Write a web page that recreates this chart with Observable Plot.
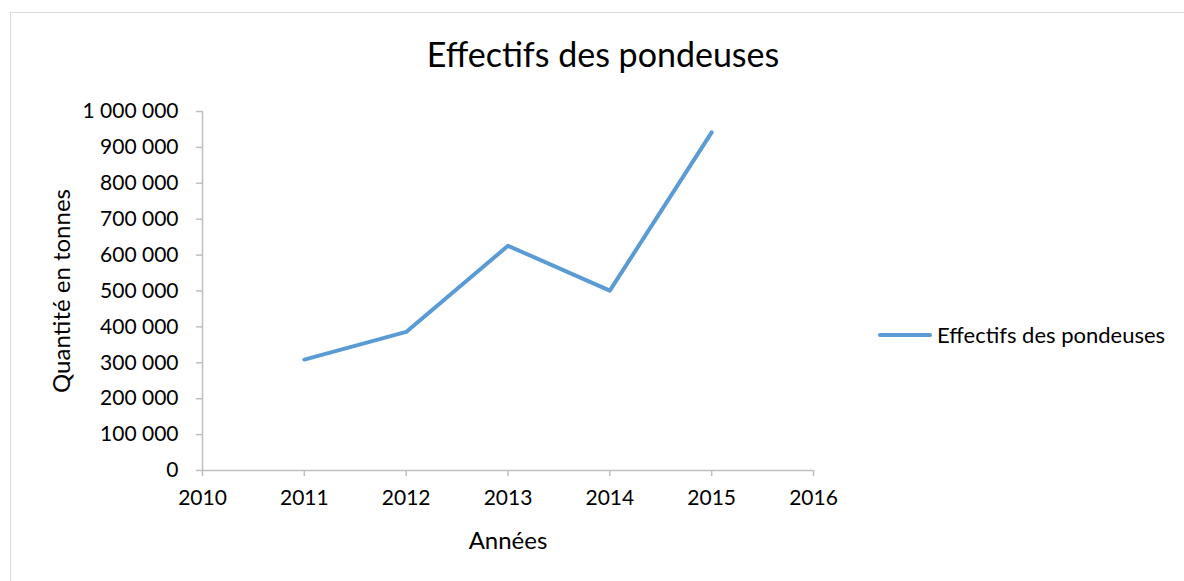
<!DOCTYPE html>
<html>
<head>
<meta charset="utf-8">
<script src="https://cdn.jsdelivr.net/npm/d3@7"></script>
<script src="https://cdn.jsdelivr.net/npm/@observablehq/plot@0.6"></script>
<style>
  html, body { margin: 0; padding: 0; background: #fff; overflow: hidden; }
  #wrap { position: relative; width: 1184px; height: 581px; overflow: hidden; font-family: Lato, "Open Sans", sans-serif; }
  #frame { position: absolute; left: 10px; top: 12px; width: 1300px; height: 700px; border: 1px solid #d9d9d9; box-sizing: border-box; }
  #title { position: absolute; left: 0; width: 1206px; top: 34px; text-align: center; font-size: 34px; color: #000; line-height: 40.8px; }
  #chart { position: absolute; left: 0; top: 0; }
  #legend { position: absolute; left: 878px; top: 321px; display: flex; align-items: center; font-size: 22px; color: #000; line-height: 28px; }
  #legend .sw { width: 54px; height: 4px; background: #5b9bd5; border-radius: 2px; margin-right: 5px; }
</style>
</head>
<body>
<div id="wrap">
  <div id="frame"></div>
  <div id="chart"></div>
  <div id="title">Effectifs des pondeuses</div>
  <div id="legend"><div class="sw"></div><span id="legendText"></span></div>
</div>
<script>
const seriesName = "Effectifs des pondeuses";
const years = [2011, 2012, 2013, 2014, 2015];
const values = [309000, 386000, 626000, 501000, 942000];
const xTicks = [2010, 2011, 2012, 2013, 2014, 2015, 2016];
const yTicks = [0, 100000, 200000, 300000, 400000, 500000, 600000, 700000, 800000, 900000, 1000000];
const xLabel = "Années";
const yLabel = "Quantité en tonnes";

const data = years.map((y, i) => ({year: y, value: values[i]}));
const fmt = d3.formatLocale({decimal: ",", thousands: " ", grouping: [3], currency: ["", ""]}).format(",");

document.getElementById("legendText").textContent = seriesName;

const axisColor = "#bfbfbf";
const plot = Plot.plot({
  width: 1184,
  height: 581,
  marginLeft: 202,
  marginRight: 371,
  marginTop: 111,
  marginBottom: 111,
  style: {fontFamily: "Lato, 'Open Sans', sans-serif", fontSize: "21px", color: "#000", background: "transparent"},
  x: {domain: [2010, 2016], ticks: xTicks},
  y: {domain: [0, 1000000], ticks: yTicks},
  marks: [
    Plot.ruleY([0], {stroke: axisColor, strokeWidth: 1.5}),
    Plot.ruleX([2010], {stroke: axisColor, strokeWidth: 1.5}),
    Plot.axisX({ticks: xTicks, tickSize: 6, tickPadding: 14, tickFormat: d => String(d), stroke: axisColor, strokeWidth: 1.5, fill: "#000", fontSize: 21, label: null}),
    Plot.axisY({ticks: yTicks, tickSize: 6, tickPadding: 18, tickFormat: fmt, stroke: axisColor, strokeWidth: 1.5, fill: "#000", fontSize: 21, label: null}),
    Plot.text([xLabel], {frameAnchor: "bottom", dy: 71, fontSize: 24, fill: "#000", lineAnchor: "middle", textAnchor: "middle"}),
    Plot.text([yLabel], {frameAnchor: "left", dx: -140, rotate: -90, fontSize: 24, fill: "#000", lineAnchor: "middle", textAnchor: "middle"}),
    Plot.line(data, {x: "year", y: "value", stroke: "#5b9bd5", strokeWidth: 4, strokeLinecap: "round", strokeLinejoin: "round"})
  ]
});
document.getElementById("chart").appendChild(plot);
</script>
</body>
</html>
